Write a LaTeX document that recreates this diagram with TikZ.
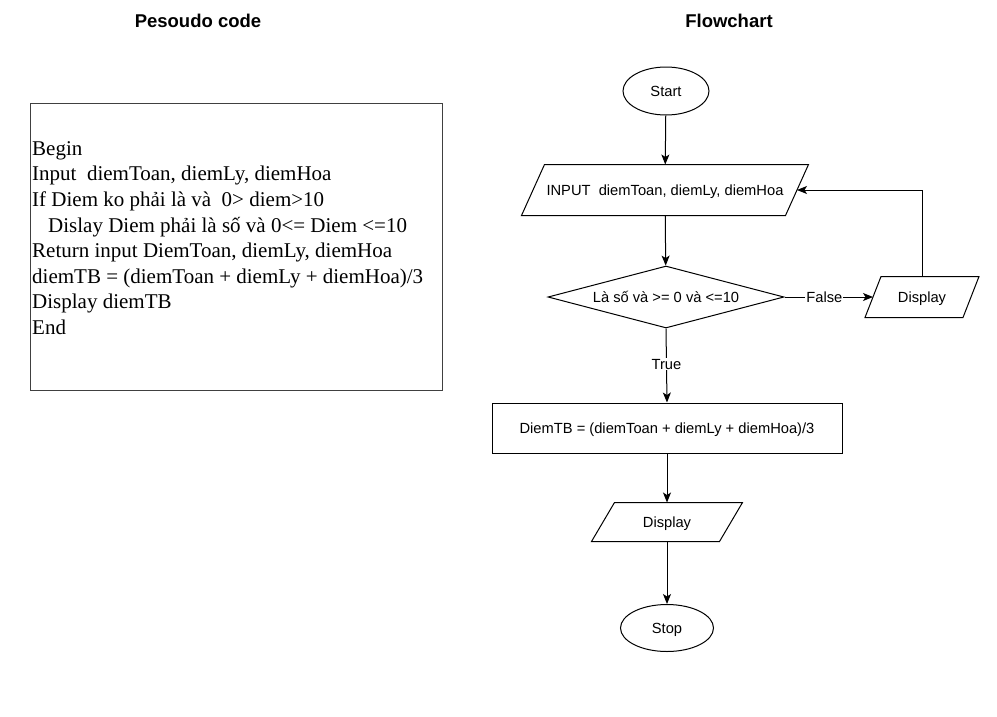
\documentclass[tikz,border=0pt]{standalone}
\usepackage{fontspec}
\setmainfont{Liberation Serif}
\newfontfamily\chartfont{Liberation Sans}
\usetikzlibrary{shapes.geometric,arrows.meta}
\newcommand\ioshape[2]{\draw[line width=1pt] ([xshift=#2pt]#1.north west) -- (#1.north east)
  -- ([xshift=-#2pt]#1.south east) -- (#1.south west) -- cycle;}
\tikzset{
  chart/.style={font=\chartfont\fontsize{14.7}{17}\selectfont, line width=1pt, text depth=0pt},
  term/.style={chart, draw, ellipse, inner sep=0pt},
  io/.style={chart, rectangle, inner sep=0pt},
  proc/.style={chart, draw, rectangle, inner sep=0pt, minimum width=350pt, minimum height=50pt},
  test/.style={chart, draw, diamond, aspect=3.8, inner sep=0pt, minimum width=236pt, minimum height=62pt},
  flow/.style={line width=1pt, -{Stealth[length=10pt,width=8pt,inset=2.5pt]}},
  tag/.style={font=\chartfont\fontsize{14.7}{17}\selectfont, fill=white, inner sep=1pt},
  title/.style={font=\chartfont\bfseries\fontsize{18.5}{22}\selectfont}
}
\begin{document}
\begin{tikzpicture}[x=1pt,y=-1pt]
\useasboundingbox (0,0) rectangle (997,716);
\node[title] (ptitle) at (198,21) {Pesoudo code};
\node[title] (ftitle) at (729,21) {Flowchart};

\draw[line width=1pt, black!75] (30,103) rectangle (442,390);
\node[anchor=west, align=left, inner sep=0pt,
      font=\fontsize{21}{25.6}\selectfont] (code) at (32,238) {%
Begin\\
Input\ \ diemToan, diemLy, diemHoa\\
If Diem ko phải là và\ \ 0> diem>10\\
\hspace*{16pt}Dislay Diem phải là số và 0<= Diem <=10\\
Return input DiemToan, diemLy, diemHoa\\
diemTB = (diemToan + diemLy + diemHoa)/3\\
Display diemTB\\
End};

\node[term, minimum width=86pt, minimum height=48pt] (start) at (666,91) {Start};
\node[io, minimum width=286pt, minimum height=50pt] (input) at (665,190) {INPUT\ \ diemToan, diemLy, diemHoa};
\ioshape{input}{23}
\node[test] (check) at (666,297) {Là số và >= 0 và <=10};
\node[io, minimum width=113pt, minimum height=40pt] (warn) at (922,297) {Display};
\ioshape{warn}{16}
\node[proc] (calc) at (667,428) {DiemTB = (diemToan + diemLy + diemHoa)/3};
\node[io, minimum width=150pt, minimum height=38pt] (show) at (667,522) {Display};
\ioshape{show}{23}
\node[term, minimum width=93pt, minimum height=47pt] (stop) at (667,628) {Stop};

\draw[flow] (start) -- (input);
\draw[flow] (input) -- (check);
\draw[flow] (check.east) -- node[tag, pos=0.45] {False} ([xshift=8pt]warn.west);
\draw[flow] (warn.north) |- ([xshift=-11.5pt]input.east);
\draw[flow] (check.south) -- node[tag, pos=0.48] {True} (calc.north);
\draw[flow] (calc) -- (show);
\draw[flow] (show) -- (stop);
\end{tikzpicture}
\end{document}
